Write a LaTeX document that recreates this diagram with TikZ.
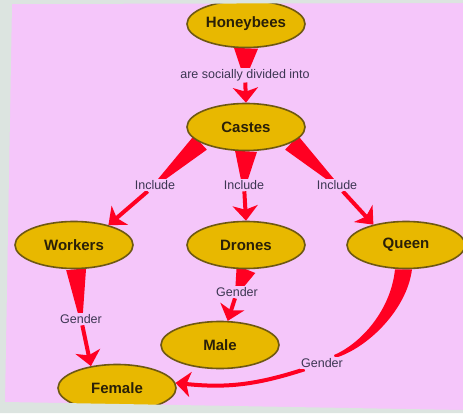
\documentclass[tikz,border=0pt]{standalone}
\usepackage{fontspec}
\setmainfont{Liberation Sans}
\usetikzlibrary{calc,arrows.meta,shapes.geometric}
\pgfdeclarelayer{bg}
\pgfsetlayers{bg,main}
\definecolor{pinkbg}{HTML}{F5C6FA}
\definecolor{outerbg}{HTML}{DCE4E0}
\definecolor{gold}{HTML}{E8B800}
\definecolor{goldedge}{HTML}{6E5812}
\definecolor{conred}{HTML}{FF0022}
\definecolor{labtext}{HTML}{3C3652}
\definecolor{nodetext}{HTML}{2A2008}
\newcommand\taper[4]{\fill[conred] ($(#1)!#3!90:(#2)$) -- ($(#2)!#4!-90:(#1)$) -- ($(#2)!#4!90:(#1)$) -- ($(#1)!#3!-90:(#2)$) -- cycle;}
\begin{document}
\begin{tikzpicture}[x=1pt,y=1pt,
 concept/.style={ellipse, draw=goldedge, line width=1.6pt, fill=gold, minimum width=118pt, minimum height=47pt, inner sep=0pt, font=\fontsize{15}{17}\selectfont\bfseries, text=nodetext},
 linklabel/.style={fill=pinkbg, inner sep=1.5pt, font=\fontsize{12.5}{14}\selectfont, text=labtext},
 arrowline/.style={draw=conred, line width=4pt, -{Stealth[length=15pt,width=25pt,inset=4pt]}}]
\useasboundingbox (0,0) rectangle (463,413);
\node[concept] (hb) at (246,389) {Honeybees};
\node[concept] (ca) at (246,286) {Castes};
\node[concept] (wo) at (74,168) {Workers};
\node[concept] (dr) at (246,168) {Drones};
\node[concept] (qu) at (406,168) {Queen};
\node[concept] (ma) at (220,68) {Male};
\node[concept] (fe) at (117,25) {Female};
\node[linklabel] (l0) at (245,338) {are socially divided into};
\node[linklabel] (l1) at (155,228) {Include};
\node[linklabel] (l2) at (244,228) {Include};
\node[linklabel] (l3) at (337,228) {Include};
\node[linklabel] (l4) at (81,94) {Gender};
\node[linklabel] (l5) at (237,121) {Gender};
\node[linklabel] (l6) at (322,50) {Gender};
\begin{pgfonlayer}{bg}
\fill[pinkbg] (0,0) rectangle (463,413);
\taper{hb.south}{l0}{12pt}{2pt}
\taper{ca.199}{l1}{9.5pt}{1.5pt}
\taper{ca.south}{l2}{11pt}{2pt}
\taper{ca.341}{l3}{9.5pt}{1.5pt}
\taper{wo.-85}{l4}{10pt}{1.5pt}
\taper{dr.south}{l5}{10pt}{2pt}
\fill[conred] ($(qu.south)+(-11,0)$) .. controls ($(qu.south)+(-15,-40)$) and ($(l6)+(40,20)$) .. ($(l6)+(12,8)$) -- ($(l6)+(13,5)$) .. controls ($(l6)+(46,15)$) and ($(qu.south)+(1,-40)$) .. ($(qu.south)+(6,0)$) -- cycle;
\draw[arrowline] (l0) -- (ca.north);
\draw[arrowline] (l1) -- (wo.30);
\draw[arrowline] (l2) -- (dr.north);
\draw[arrowline] (l3) -- (qu.148);
\draw[arrowline] (l4) -- (fe.140);
\draw[arrowline] (l5) -- (ma);
\draw[arrowline] (l6) to[bend left=12] (fe.5);
\end{pgfonlayer}
\fill[outerbg, even odd rule] (0,0) rectangle (463,413) (12,409) -- (463,410) -- (463,3) -- (5,11) -- cycle;
\end{tikzpicture}
\end{document}
